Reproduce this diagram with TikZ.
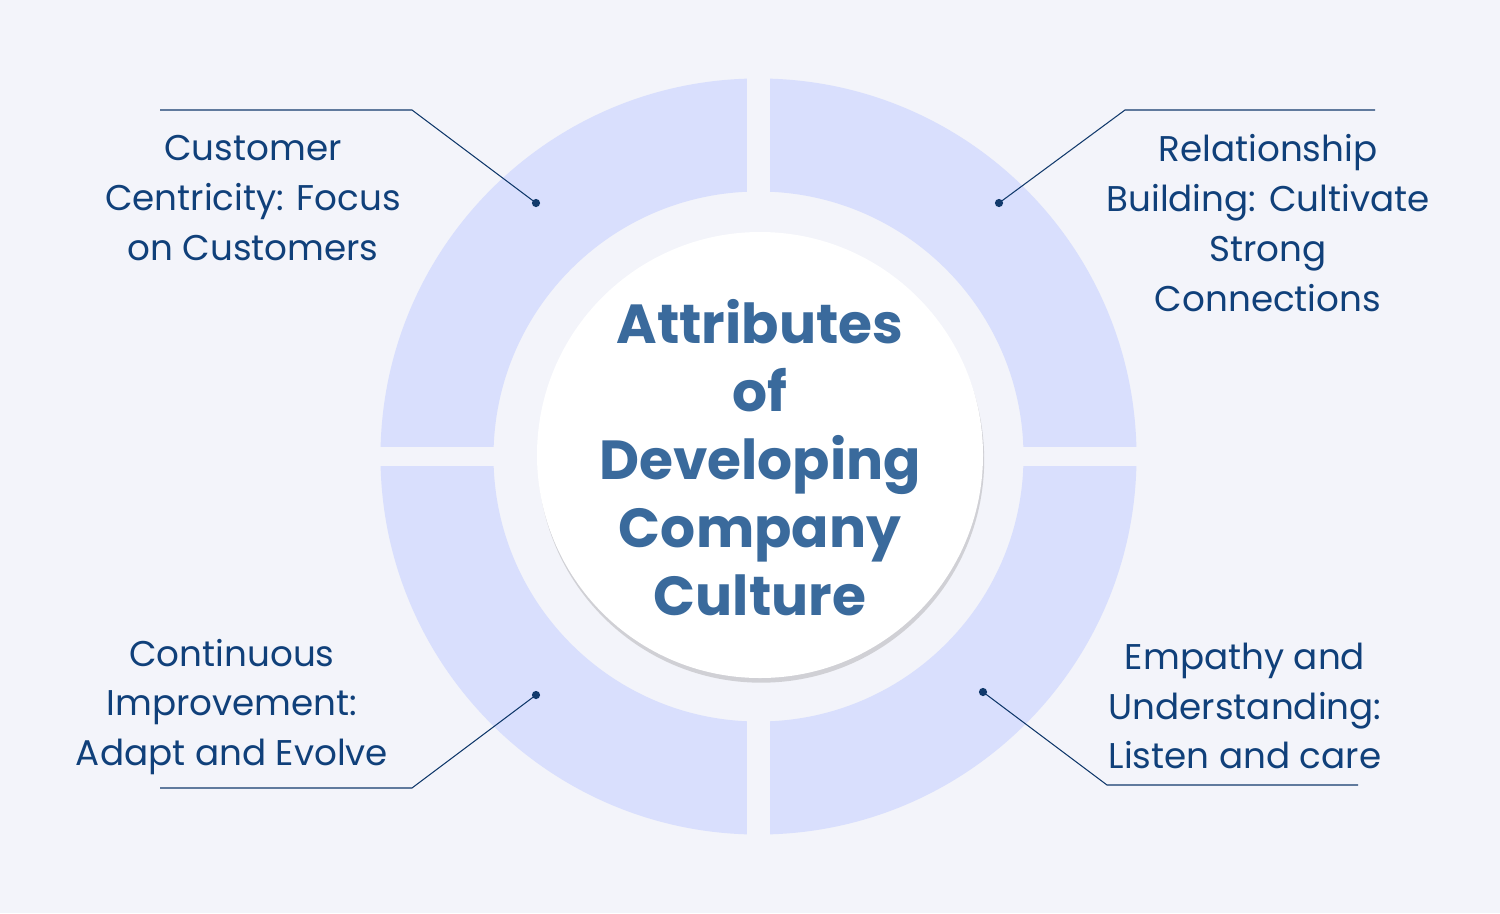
\documentclass[tikz,border=0pt]{standalone}
\usepackage{fontspec}
\setmainfont{Poppins}
\usetikzlibrary{shadows}
\definecolor{bgc}{HTML}{F3F4FA}
\definecolor{ringc}{HTML}{D9DFFD}
\definecolor{txtc}{HTML}{10407A}
\definecolor{titc}{HTML}{3A6A9C}
\definecolor{linec}{HTML}{123A6C}
\tikzset{
  lbl/.style={align=center,text=txtc,font=\fontsize{30.5}{42.5}\selectfont},
  conn/.style={draw=linec,line width=0.9pt},
  dotc/.style={circle,fill=linec,inner sep=0pt,minimum size=7pt}
}
\begin{document}
\begin{tikzpicture}[x=0.03cm,y=-0.03cm]
\fill[bgc] (0,0) rectangle (1500,913);
\useasboundingbox (0,0) rectangle (1500,913);
% ring
\fill[ringc,even odd rule] (758.5,456.5) circle[radius=11.34cm] (758.5,456.5) circle[radius=7.95cm];
\fill[bgc] (747,60) rectangle (770,850);
\fill[bgc] (360,447) rectangle (1160,466);
% center
\node[circle,fill=white,minimum size=13.38cm,drop shadow={shadow xshift=1pt,shadow yshift=-4pt,opacity=0.3,fill=gray}] (c) at (760,455) {};
\node[align=center,text=titc,font=\fontsize{47}{58}\selectfont\bfseries] (t) at (760,458) {Attributes\\of\\Developing\\Company\\Culture};
% dots
\node[dotc] (d1) at (536,203) {};
\node[dotc] (d2) at (999,203) {};
\node[dotc] (d3) at (536,695) {};
\node[dotc] (d4) at (983,692) {};
\coordinate (a1) at (412,110); \coordinate (e1) at (160,110);
\coordinate (a2) at (1125,110); \coordinate (e2) at (1375,110);
\coordinate (a3) at (412,788); \coordinate (e3) at (160,788);
\coordinate (a4) at (1107,785); \coordinate (e4) at (1358,785);
\draw[conn] (d1.center) -- (a1) -- (e1);
\draw[conn] (d2.center) -- (a2) -- (e2);
\draw[conn] (d3.center) -- (a3) -- (e3);
\draw[conn] (d4.center) -- (a4) -- (e4);
% labels
\node[lbl] (l1) at (253,198) {Customer\\Centricity: Focus\\on Customers};
\node[lbl] (l2) at (1268,223) {Relationship\\Building: Cultivate\\Strong\\Connections};
\node[lbl] (l3) at (232,707) {Continuous\\Improvement:\\Adapt and Evolve};
\node[lbl] (l4) at (1245,706) {Empathy and\\Understanding:\\Listen and care};
\end{tikzpicture}
\end{document}
